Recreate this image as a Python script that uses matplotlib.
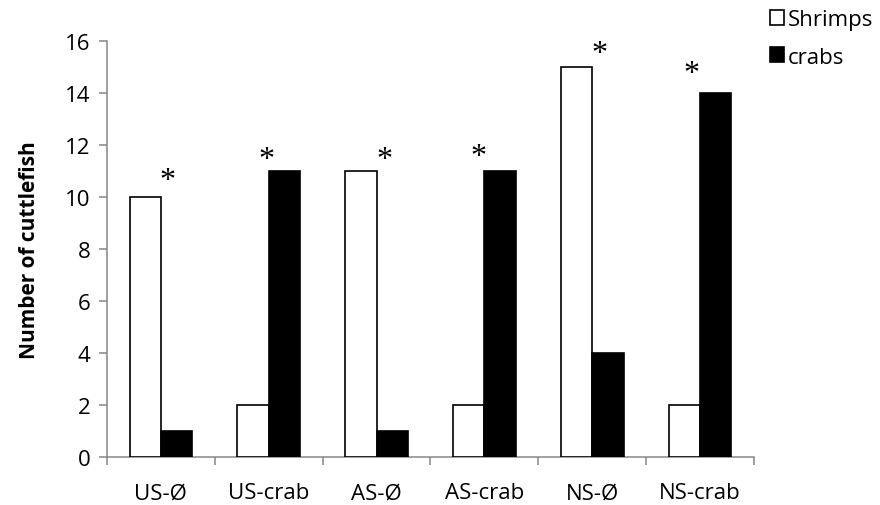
import matplotlib
matplotlib.use("Agg")
import matplotlib.pyplot as plt
import numpy as np

# data
groups = ["US-Ø", "US-crab", "AS-Ø", "AS-crab", "NS-Ø", "NS-crab"]
shrimps = [10, 2, 11, 2, 15, 2]
crabs = [1, 11, 1, 11, 4, 14]
# asterisks: (x in category units, y in data units)
star_x = [0.06, 0.98, 2.07, 2.94, 4.07, 4.92]
star_y = [10.9, 11.7, 11.7, 11.8, 15.8, 15.0]

plt.rcParams['font.family'] = ['Open Sans', 'DejaVu Sans']

fig = plt.figure(figsize=(8.8, 5.06), dpi=100)
ax = fig.add_axes([0.1216, 0.0943, 0.7352, 0.8221])

x = np.arange(len(groups))
w = 0.29
b1 = ax.bar(x - w / 2, shrimps, w, color='white', edgecolor='black', linewidth=1.2, label='Shrimps', zorder=3)
b2 = ax.bar(x + w / 2, crabs, w, color='black', edgecolor='black', linewidth=1.2, label='crabs', zorder=3)

# the serif asterisk sits high in its box, so nudge it down a little
for sx, sy in zip(star_x, star_y):
    ax.text(sx, sy - 0.25, '*', ha='center', va='center', fontsize=23,
            family='Liberation Serif', clip_on=False)

ax.set_xlim(-0.5, len(groups) - 0.5)
ax.set_ylim(0, 16)
ax.set_yticks(range(0, 17, 2))
ax.set_xticks(x)
ax.set_xticklabels(groups)
ax.set_xticks(np.arange(-0.5, len(groups), 1), minor=True)

grey = '#868686'
for s in ['top', 'right']:
    ax.spines[s].set_visible(False)
for s in ['left', 'bottom']:
    ax.spines[s].set_color(grey)
    ax.spines[s].set_linewidth(1.1)

ax.tick_params(axis='y', length=6, width=1.1, color=grey, labelsize=16, pad=6)
ax.tick_params(axis='x', which='major', length=0, labelsize=16, pad=18)
ax.tick_params(axis='x', which='minor', length=6, width=1.1, color=grey)

ax.set_ylabel('Number of cuttlefish', fontsize=15, fontweight='bold', labelpad=18)

fig.legend(handles=[b1, b2], loc='upper left', bbox_to_anchor=(770 / 880, 1 - 10 / 506),
           frameon=False, fontsize=16, handlelength=0.65, handleheight=0.65,
           handletextpad=0.15, labelspacing=0.75, borderpad=0, borderaxespad=0)

fig.savefig('out.png', dpi=100)
